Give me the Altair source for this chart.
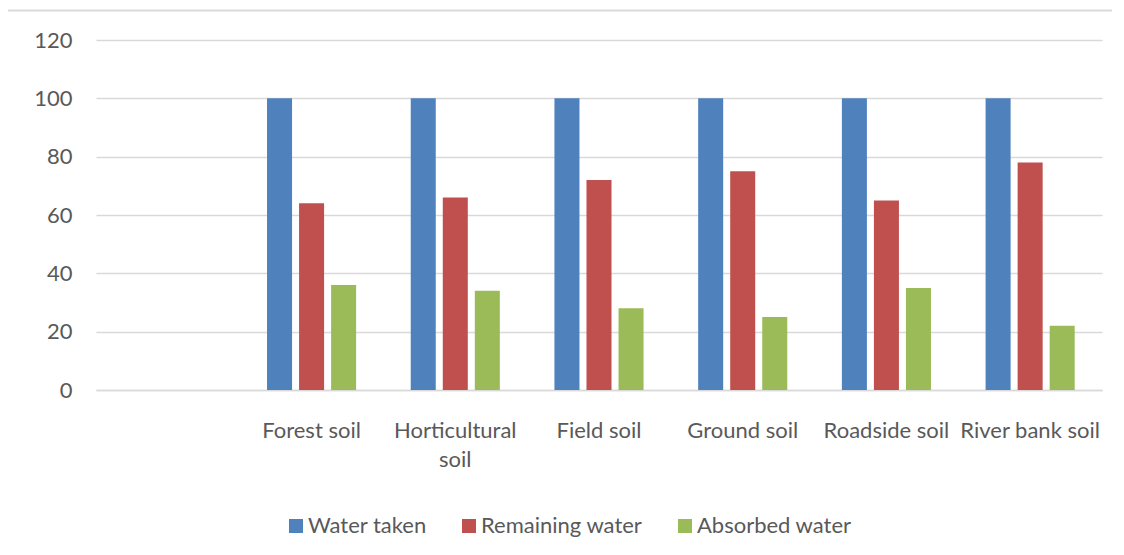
import altair as alt
import pandas as pd

categories = ["Forest soil", "Horticultural soil", "Field soil", "Ground soil", "Roadside soil", "River bank soil"]
series = ["Water taken", "Remaining water", "Absorbed water"]
water_taken = [100, 100, 100, 100, 100, 100]
remaining_water = [64, 66, 72, 75, 65, 78]
absorbed_water = [36, 34, 28, 25, 35, 22]
y_ticks = [0, 20, 40, 60, 80, 100, 120]
colors = ["#4F81BD", "#C0504D", "#9BBB59"]

rows = []
for i, c in enumerate(categories):
    for s, vals in zip(series, [water_taken, remaining_water, absorbed_water]):
        rows.append({"category": c, "series": s, "value": vals[i]})
df = pd.DataFrame(rows)

FONT = "Lato"
GRAY = "#595959"
LINE = "#D9D9D9"

bars = alt.Chart(df).mark_bar().encode(
    x=alt.X(
        "category:N",
        scale=alt.Scale(domain=[" "] + categories, paddingInner=0.38, paddingOuter=0.19),
        axis=alt.Axis(
            title=None, labelAngle=0, ticks=False, grid=False,
            domainColor=LINE, domainWidth=1.5,
            labelFont=FONT, labelFontSize=22, labelColor=GRAY,
            labelPadding=30, labelLineHeight=29, labelOverlap=False,
            labelExpr="datum.value == 'Horticultural soil' ? ['Horticultural', 'soil'] : datum.label",
        ),
    ),
    xOffset=alt.XOffset("series:N", scale=alt.Scale(domain=series, paddingInner=0.219, paddingOuter=0)),
    y=alt.Y(
        "value:Q",
        scale=alt.Scale(domain=[0, 120], nice=False),
        axis=alt.Axis(
            values=y_ticks, title=None, domain=False, ticks=False,
            gridColor=LINE, gridWidth=1.5,
            labelFont=FONT, labelFontSize=22, labelColor=GRAY, labelPadding=24,
        ),
    ),
    color=alt.Color(
        "series:N",
        scale=alt.Scale(domain=series, range=colors),
        legend=alt.Legend(
            title=None, orient="none", legendX=189, legendY=475, direction="horizontal",
            symbolType="square", symbolSize=196, symbolStrokeWidth=0,
            labelFont=FONT, labelFontSize=22, labelColor=GRAY, labelLimit=400,
            labelOffset=1, columnPadding=31,
        ),
    ),
)

border = alt.Chart(alt.Data(values=[{}])).mark_rect(
    fill=None, stroke=LINE, strokeWidth=2, clip=False
).encode(
    x=alt.value(-89), x2=alt.value(1200), y=alt.value(-29.5), y2=alt.value(600)
)

chart = alt.layer(border, bars).properties(
    width=1006, height=350,
    autosize=alt.AutoSizeParams(type="none"),
    padding={"left": 88, "top": 32, "right": 10, "bottom": 155},
).configure_view(stroke=None)

chart.save("out.html", embed_options={"renderer": "svg", "actions": False})
